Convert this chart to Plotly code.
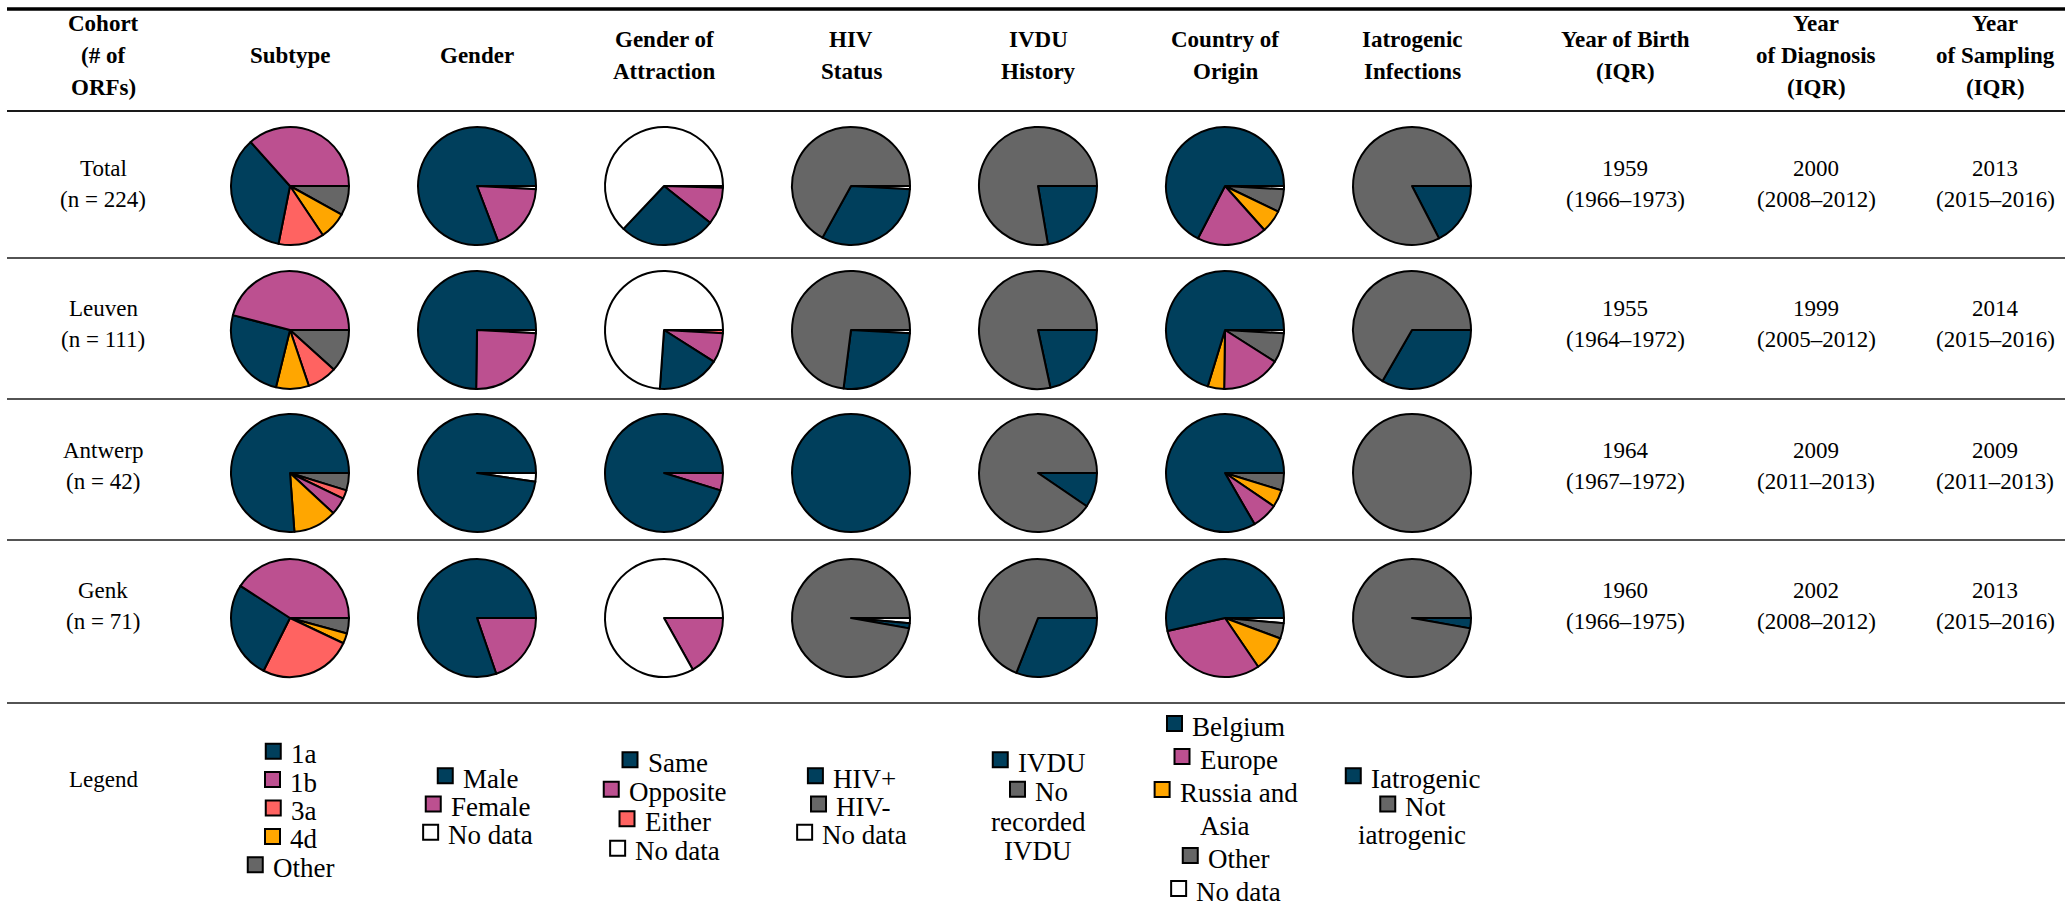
import plotly.graph_objects as go

# ---------------- data ----------------
COHORTS = ["Total", "Leuven", "Antwerp", "Genk"]
COHORT_N = [224, 111, 42, 71]

BLUE, PURPLE, RED, ORANGE, GRAY, WHITE = "#003f5c", "#bc5090", "#ff6361", "#ffa600", "#666666", "#ffffff"

SUBTYPE_CATS = ["1a", "1b", "3a", "4d", "Other"]
SUBTYPE_COLORS = [BLUE, PURPLE, RED, ORANGE, GRAY]
SUBTYPE_VALUES = {"Total": [79, 82, 28, 17, 18], "Leuven": [28, 51, 9, 10, 13],
                  "Antwerp": [32, 2, 1, 5, 2], "Genk": [19, 29, 18, 2, 3]}

GENDER_CATS = ["Male", "Female", "No data"]
GENDER_COLORS = [BLUE, PURPLE, WHITE]
GENDER_VALUES = {"Total": [181, 41, 2], "Leuven": [83, 27, 1],
                 "Antwerp": [41, 0, 1], "Genk": [57, 14, 0]}

ATTR_CATS = ["Same", "Opposite", "Either", "No data"]
ATTR_COLORS = [BLUE, PURPLE, RED, WHITE]
ATTR_VALUES = {"Total": [59, 23, 1, 141], "Leuven": [19, 9, 1, 82],
               "Antwerp": [40, 2, 0, 0], "Genk": [0, 12, 0, 59]}

HIV_CATS = ["HIV+", "HIV-", "No data"]
HIV_COLORS = [BLUE, GRAY, WHITE]
HIV_VALUES = {"Total": [72, 150, 2], "Leuven": [29, 81, 1],
              "Antwerp": [42, 0, 0], "Genk": [1, 69, 1]}

IVDU_CATS = ["IVDU", "No recorded IVDU"]
IVDU_COLORS = [BLUE, GRAY]
IVDU_VALUES = {"Total": [50, 174], "Leuven": [24, 87], "Antwerp": [4, 38], "Genk": [22, 49]}

COUNTRY_CATS = ["Belgium", "Europe", "Russia and Asia", "Other", "No data"]
COUNTRY_COLORS = [BLUE, PURPLE, ORANGE, GRAY, WHITE]
COUNTRY_VALUES = {"Total": [151, 43, 14, 14, 2], "Leuven": [78, 18, 5, 9, 1],
                  "Antwerp": [35, 3, 2, 2, 0], "Genk": [38, 22, 7, 3, 1]}

IATRO_CATS = ["Iatrogenic", "Not iatrogenic"]
IATRO_COLORS = [BLUE, GRAY]
IATRO_VALUES = {"Total": [39, 185], "Leuven": [37, 74], "Antwerp": [0, 42], "Genk": [2, 69]}

BIRTH_MEDIAN = ["1959", "1955", "1964", "1960"]
BIRTH_IQR = ["1966–1973", "1964–1972", "1967–1972", "1966–1975"]
DIAG_MEDIAN = ["2000", "1999", "2009", "2002"]
DIAG_IQR = ["2008–2012", "2005–2012", "2011–2013", "2008–2012"]
SAMP_MEDIAN = ["2013", "2014", "2009", "2013"]
SAMP_IQR = ["2015–2016", "2015–2016", "2011–2013", "2015–2016"]

HEADERS = [["Cohort", "(# of", "ORFs)"], ["Subtype"], ["Gender"], ["Gender of", "Attraction"],
           ["HIV", "Status"], ["IVDU", "History"], ["Country of", "Origin"],
           ["Iatrogenic", "Infections"], ["Year of Birth", "(IQR)"],
           ["Year", "of Diagnosis", "(IQR)"], ["Year", "of Sampling", "(IQR)"]]

LEGEND_WRAP = {"No recorded IVDU": ["No", "recorded", "IVDU"],
               "Russia and Asia": ["Russia and", "Asia"],
               "Not iatrogenic": ["Not", "iatrogenic"]}

PIE_COLUMNS = [
    ("Subtype", SUBTYPE_CATS, SUBTYPE_COLORS, SUBTYPE_VALUES),
    ("Gender", GENDER_CATS, GENDER_COLORS, GENDER_VALUES),
    ("Attraction", ATTR_CATS, ATTR_COLORS, ATTR_VALUES),
    ("HIV", HIV_CATS, HIV_COLORS, HIV_VALUES),
    ("IVDU", IVDU_CATS, IVDU_COLORS, IVDU_VALUES),
    ("Country", COUNTRY_CATS, COUNTRY_COLORS, COUNTRY_VALUES),
    ("Iatrogenic", IATRO_CATS, IATRO_COLORS, IATRO_VALUES),
]
PIN_LAST = {"Subtype": ["Other"]}
ORDER_OVERRIDE = {("Country", "Leuven"): ["Belgium", "Russia and Asia", "Europe", "Other", "No data"]}

# ---------------- geometry ----------------
W, H = 2071, 907
COL0_X, COL_W = 103, 187
TEXT_COL_X = [1625, 1816, 1995]
ROW_LINES = [111, 258, 399, 540, 703]
ROW_TEXT_Y = [184, 324, 466, 606]
PIE_Y = [186, 330, 473, 618]
TOP_LINE = 9
HEADER_Y = 55.5
LINE_GAP = 31.7
PIE_R = 59
FONT = "Liberation Serif"
FS = 23
FS_HEAD = 23
FS_LEG = 27


def px(x):
    return x / W


def py(y):
    return 1 - y / H


def col_x(k):
    return COL0_X + COL_W * k


fig = go.Figure()
annotations = []
shapes = []


def add_text(x, yc, lines, gap=LINE_GAP, bold=False, size=FS):
    n = len(lines)
    for i, t in enumerate(lines):
        y = yc + (i - (n - 1) / 2) * gap
        annotations.append(dict(x=px(x), y=py(y), xref="paper", yref="paper",
                                text=f"<b>{t}</b>" if bold else t, showarrow=False,
                                xanchor="center", yanchor="middle",
                                font=dict(family=FONT, size=size, color="black")))


# rules
shapes.append(dict(type="line", xref="paper", yref="paper", x0=px(7), x1=px(2065),
                   y0=py(TOP_LINE), y1=py(TOP_LINE), line=dict(color="black", width=3.5)))
for i, yl in enumerate(ROW_LINES):
    shapes.append(dict(type="line", xref="paper", yref="paper", x0=px(7), x1=px(2065),
                       y0=py(yl), y1=py(yl), line=dict(color="#1a1a1a", width=2 if i == 0 else 1.6)))

# header
for k, h in enumerate(HEADERS):
    hx = col_x(k) if k < 8 else TEXT_COL_X[k - 8]
    add_text(hx, HEADER_Y, h, bold=True, size=FS_HEAD)

# cohort labels and year columns
for r, (c, n) in enumerate(zip(COHORTS, COHORT_N)):
    add_text(col_x(0), ROW_TEXT_Y[r], [c, f"(n = {n})"])
    add_text(TEXT_COL_X[0], ROW_TEXT_Y[r], [BIRTH_MEDIAN[r], f"({BIRTH_IQR[r]})"])
    add_text(TEXT_COL_X[1], ROW_TEXT_Y[r], [DIAG_MEDIAN[r], f"({DIAG_IQR[r]})"])
    add_text(TEXT_COL_X[2], ROW_TEXT_Y[r], [SAMP_MEDIAN[r], f"({SAMP_IQR[r]})"])

# pies
for k, (name, cats, colors, values) in enumerate(PIE_COLUMNS, start=1):
    cx = col_x(k)
    for r, cohort in enumerate(COHORTS):
        vals = values[cohort]
        if (name, cohort) in ORDER_OVERRIDE:
            idx = [cats.index(c) for c in ORDER_OVERRIDE[(name, cohort)]]
        else:
            pin = PIN_LAST.get(name, [])
            idx = sorted(range(len(cats)), key=lambda i: (cats[i] in pin, -vals[i]))
        # slices listed counter-clockwise from 3 o'clock; plotted clockwise in reverse
        idx = [i for i in idx if vals[i] > 0][::-1]
        cy = PIE_Y[r]
        fig.add_trace(go.Pie(
            labels=[cats[i] for i in idx], values=[vals[i] for i in idx],
            marker=dict(colors=[colors[i] for i in idx], line=dict(color="black", width=2)),
            sort=False, direction="clockwise", rotation=90, textinfo="none",
            hoverinfo="label+value", showlegend=False,
            domain=dict(x=[px(cx - PIE_R), px(cx + PIE_R)], y=[py(cy + PIE_R), py(cy - PIE_R)])))

# legend
CW = {' ': .25, 'a': .444, 'b': .5, 'c': .444, 'd': .5, 'e': .444, 'f': .333, 'g': .5, 'h': .5,
      'i': .278, 'j': .278, 'k': .5, 'l': .278, 'm': .778, 'n': .5, 'o': .5, 'p': .5, 'q': .5,
      'r': .333, 's': .389, 't': .278, 'u': .5, 'v': .5, 'w': .722, 'x': .5, 'y': .5, 'z': .444,
      'A': .722, 'B': .667, 'D': .722, 'E': .611, 'F': .556, 'H': .722, 'I': .333, 'M': .889,
      'N': .722, 'O': .722, 'R': .667, 'S': .556, 'U': .722, 'V': .722, '+': .564, '-': .333}


def text_w(t, size):
    return sum(CW.get(ch, .5) for ch in t) * size


MK = 15
MK_GAP = 8
LEG_Y = {"Subtype": 811, "Country": 809}
LEG_SPACING = {"Subtype": 28.4, "Attraction": 29.5, "IVDU": 29.5, "Country": 33}

add_text(col_x(0), 779, ["Legend"])
for k, (name, cats, colors, values) in enumerate(PIE_COLUMNS, start=1):
    cx = col_x(k)
    lines = []
    for c, col in zip(cats, colors):
        parts = LEGEND_WRAP.get(c, [c])
        lines.append((col, parts[0]))
        for p in parts[1:]:
            lines.append((None, p))
    gap = LEG_SPACING.get(name, 28.2)
    yc = LEG_Y.get(name, 807)
    n = len(lines)
    for i, (col, t) in enumerate(lines):
        y = yc + (i - (n - 1) / 2) * gap
        if col is None:
            add_text(cx, y, [t], size=FS_LEG)
            continue
        tw = text_w(t, FS_LEG)
        total = MK + MK_GAP + tw
        x0 = cx - total / 2
        shapes.append(dict(type="rect", xref="paper", yref="paper",
                           x0=px(x0), x1=px(x0 + MK), y0=py(y - 3 + MK / 2), y1=py(y - 3 - MK / 2),
                           fillcolor=col, line=dict(color="black", width=2)))
        annotations.append(dict(x=px(x0 + MK + MK_GAP), y=py(y), xref="paper", yref="paper",
                                text=t, showarrow=False, xanchor="left", yanchor="middle",
                                font=dict(family=FONT, size=FS_LEG, color="black")))

fig.update_layout(width=W, height=H, margin=dict(l=0, r=0, t=0, b=0),
                  paper_bgcolor="white", plot_bgcolor="white",
                  annotations=annotations, shapes=shapes)
fig.write_html("out.html", config={"displayModeBar": False},
               post_script="document.body.style.margin='0px';")
